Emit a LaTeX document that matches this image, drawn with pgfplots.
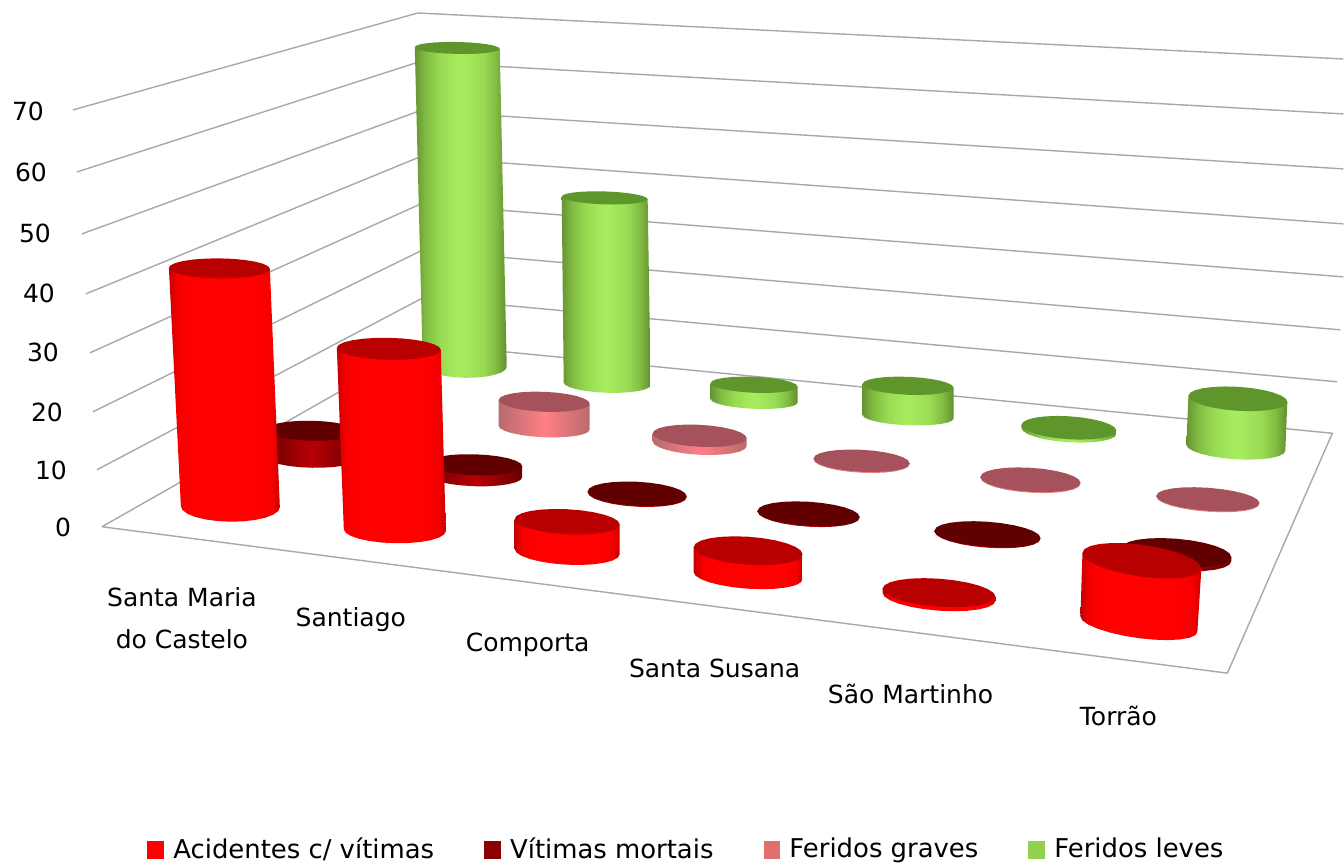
\documentclass[border=0pt]{standalone}
\usepackage{fontspec}
\setmainfont{DejaVu Sans}
\usepackage{pgfplots}
\pgfplotsset{compat=1.18}
% cylinder sides
\pgfdeclarehorizontalshading{cylred}{100bp}{rgb(0bp)=(.78,0,0);rgb(25bp)=(.78,0,0);rgb(29bp)=(.97,0,0);rgb(36bp)=(1,0,0);rgb(66bp)=(1,0,0);rgb(72bp)=(.95,0,0);rgb(75bp)=(.78,0,0);rgb(100bp)=(.78,0,0)}
\pgfdeclarehorizontalshading{cyldark}{100bp}{rgb(0bp)=(.42,0,0);rgb(25bp)=(.42,0,0);rgb(50bp)=(.72,0,.02);rgb(75bp)=(.42,0,0);rgb(100bp)=(.42,0,0)}
\pgfdeclarehorizontalshading{cylpink}{100bp}{rgb(0bp)=(.72,.42,.44);rgb(25bp)=(.72,.42,.44);rgb(50bp)=(1,.5,.52);rgb(75bp)=(.72,.42,.44);rgb(100bp)=(.72,.42,.44)}
\pgfdeclarehorizontalshading{cylgreen}{100bp}{rgb(0bp)=(.40,.58,.2);rgb(25bp)=(.40,.58,.2);rgb(31bp)=(.51,.74,.26);rgb(39bp)=(.60,.86,.33);rgb(50bp)=(.66,.93,.37);rgb(62bp)=(.60,.86,.33);rgb(69bp)=(.51,.74,.26);rgb(75bp)=(.38,.56,.19);rgb(100bp)=(.38,.56,.19)}
% cylinder tops
\pgfdeclareradialshading{topred}{\pgfpoint{0bp}{0bp}}{rgb(0bp)=(.72,0,0);rgb(27bp)=(.72,0,0);rgb(33bp)=(.85,0,0);rgb(50bp)=(.85,0,0)}
\pgfdeclareradialshading{topdark}{\pgfpoint{0bp}{0bp}}{rgb(0bp)=(.38,0,0);rgb(27bp)=(.38,0,0);rgb(34bp)=(.45,0,0);rgb(50bp)=(.45,0,0)}
\tikzset{
 bodyred/.style={draw=none,shade,shading=cylred},
 bodydark/.style={draw=none,shade,shading=cyldark},
 bodypink/.style={draw=none,shade,shading=cylpink},
 bodygreen/.style={draw=none,shade,shading=cylgreen},
 capred/.style={draw=none,shade,shading=topred},
 capdark/.style={draw=none,shade,shading=topdark},
 cappink/.style={draw=none,fill={rgb,1:red,.65;green,.32;blue,.36}},
 capgreen/.style={draw=none,fill={rgb,1:red,.37;green,.59;blue,.17}},
 grid line/.style={draw={rgb,1:red,.66;green,.66;blue,.66},line width=.7pt},
 lab/.style={font=\fontsize{12.5}{21}\selectfont,anchor=base,align=center,text=black,inner sep=0pt},
}
\newcommand\arcpts[6]{% cx cy rx ry k {angles}
 \foreach \t in {#6}{%
  \pgfmathsetmacro\px{#1+#3*cos(\t)}%
  \pgfmathsetmacro\py{#2+#4*sin(\t)+#5*#3*cos(\t)}%
  \xdef\pts{\pts (\px,\py)}%
 }}
\newcommand\polyplot[1]{\edef\tmp{\noexpand\addplot[#1] coordinates {\pts};}\tmp}
\def\cylparse#1,#2,#3,#4;#5,#6,#7,#8;#9;{%
 \gdef\pts{}%
 \arcpts{#1}{#2}{#3}{#4}{#9}{180,165,...,0}%
 \pgfmathsetmacro\qx{#5+#7}\pgfmathsetmacro\qy{#6+#9*#7}%
 \xdef\pts{\pts (\qx,\qy)}%
 \pgfmathsetmacro\qx{#5-#7}\pgfmathsetmacro\qy{#6-#9*#7}%
 \xdef\pts{\pts (\qx,\qy)}%
 \polyplot{body\cylkind}%
 \gdef\pts{}%
 \arcpts{#5}{#6}{#7}{#8}{#9}{0,15,...,345}%
 \polyplot{cap\cylkind}%
}
% \cyl{kind}{bottom cx,cy,rx,ry}{top cx,cy,rx,ry}{tilt}
\newcommand\cyl[4]{\def\cylkind{#1}\cylparse#2;#3;#4;}
\begin{document}
\begin{tikzpicture}
\begin{axis}[
  x=0.5pt,y=0.5pt,
  xmin=0,xmax=1344,ymin=0,ymax=863,y dir=reverse,
  axis line style={draw=none},
  xtick=\empty,ytick=\empty,
  clip=false,
  legend image code/.code={\fill[#1,draw=none] (0pt,-4.6pt) rectangle (8.5pt,4.4pt);},
  legend style={at={(axis cs:147,850)},anchor=west,draw=none,fill=none,
    font=\fontsize{12.95}{15}\selectfont,legend columns=4,inner sep=0pt,
    /tikz/every odd column/.append style={column sep=2.5pt},
    /tikz/every even column/.append style={column sep=23pt}},
  legend cell align=left,
]
\addlegendimage{fill={rgb,255:red,255;green,0;blue,0}}
\addlegendimage{fill={rgb,255:red,139;green,0;blue,0}}
\addlegendimage{fill={rgb,255:red,224;green,112;blue,112}}
\addlegendimage{fill={rgb,255:red,146;green,208;blue,80}}
\addlegendentry{Acidentes c/ vítimas}
\addlegendentry{Vítimas mortais}
\addlegendentry{Feridos graves}
\addlegendentry{Feridos leves}
% gridlines 0..70 (left wall and back wall)
\addplot[grid line] coordinates {(97,470)(423,298)(1338,382)};
\addplot[grid line] coordinates {(93,412)(422,250.5)(1341,330)};
\addplot[grid line] coordinates {(90,353)(421,204)(1344,277)};
\addplot[grid line] coordinates {(86,294)(420,157)(1344,224)};
\addplot[grid line] coordinates {(82,234)(419.5,111)(1344,169)};
\addplot[grid line] coordinates {(77,172)(419,62)(1344,114)};
\addplot[grid line] coordinates {(73,110)(418,13)(1344,59)};
% floor
\addplot[grid line] coordinates {(102,527)(424,344)(1333,433.5)(1228,673.5)(102,527)};
% Feridos leves
\cyl{green}{465,366,42,12}{457.5,48,42.5,6}{.02}
\cyl{green}{607.5,384,43.5,9}{605,198,43,6.5}{.03}
\cyl{green}{754.5,401,43.5,8}{754.5,385,43.5,8}{.04}
\cyl{green}{908.5,417,45.5,8.5}{908.5,386,45.5,9}{.04}
\cyl{green}{1069.5,431,47.5,11.5}{1069.5,428,47.5,11.5}{.06}
\cyl{green}{1236.5,448,49.5,11.5}{1238.5,399,49.5,12}{.06}
% Feridos graves
\cyl{pink}{544.5,428,45.5,9.5}{544.5,402,45.5,10}{.04}
\cyl{pink}{700,444,47,11}{700,436,47,11}{.05}
\cyl{pink}{862,462,48,11}{862,461,48,11}{.05}
\cyl{pink}{1031,481,50,12}{1031,480,50,12}{.06}
\cyl{pink}{1208.5,500.5,51.5,11.5}{1208.5,499.5,51.5,11.5}{.07}
% Vitimas mortais
\cyl{dark}{312,458,46,10}{312,431,46,10}{.02}
\cyl{dark}{475,476,47.5,10.5}{475,465,47.5,10.5}{.03}
\cyl{dark}{637.5,495,49.5,12}{637.5,494,49.5,12}{.05}
\cyl{dark}{809,515,51,12}{809,514,51,12}{.06}
\cyl{dark}{988,535.5,53,12.5}{988,534.5,53,12.5}{.07}
\cyl{dark}{1177,557,55,14}{1177,553,55,14}{.08}
% Acidentes com vitimas
\cyl{red}{230.5,507,49.5,15}{219.5,268.5,50.5,10}{.01}
\cyl{red}{395,530.5,51,13}{389,349,52,11}{.02}
\cyl{red}{567.5,552,52.5,13}{567.5,522,52.5,12.5}{.05}
\cyl{red}{748.5,576,54.5,13}{748.5,551,54.5,14}{.065}
\cyl{red}{939.5,597,56.5,14}{939.5,593,56.5,14}{.07}
\cyl{red}{1139.5,624.5,58.5,14}{1142.5,561,59.5,16}{.13}
% axis numbers
\node[lab] at (axis cs:28,120.5) {70};
\node[lab] at (axis cs:31,181.5) {60};
\node[lab] at (axis cs:35,242.5) {50};
\node[lab] at (axis cs:39,302.5) {40};
\node[lab] at (axis cs:43,361.5) {30};
\node[lab] at (axis cs:47,421.5) {20};
\node[lab] at (axis cs:51,479.5) {10};
\node[lab] at (axis cs:63,536.5) {0};
% categories
\node[lab] at (axis cs:182,649) {Santa Maria\\do Castelo};
\node[lab] at (axis cs:351,627) {Santiago};
\node[lab] at (axis cs:528,652) {Comporta};
\node[lab] at (axis cs:715,678) {Santa Susana};
\node[lab] at (axis cs:911,704) {São Martinho};
\node[lab] at (axis cs:1119,726) {Torrão};
\end{axis}
\end{tikzpicture}
\end{document}
